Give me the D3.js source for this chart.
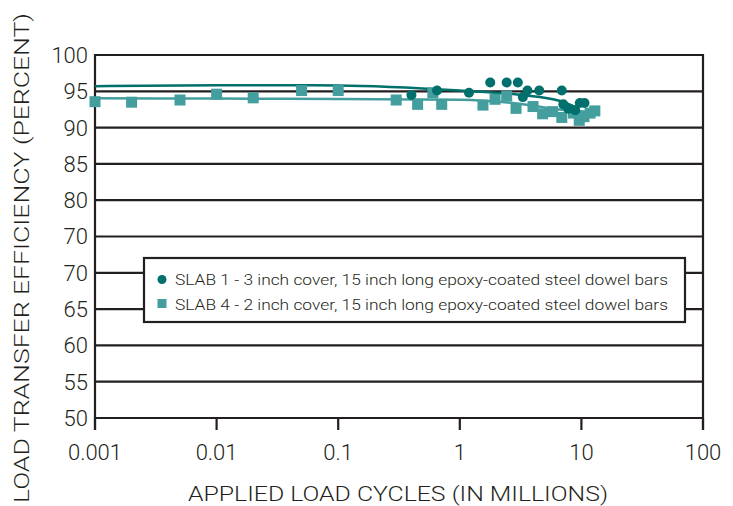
<!DOCTYPE html>
<html><head><meta charset="utf-8">
<script src="https://cdn.jsdelivr.net/npm/d3@7"></script>
<style>html,body{margin:0;padding:0;background:#fff;}svg{display:block;}</style>
</head><body>
<svg id="chart" width="733" height="506"></svg>
<script>
// ---- data ----
const xTickValues = [0.001, 0.01, 0.1, 1, 10, 100];
const xTickLabels = ["0.001", "0.01", "0.1", "1", "10", "100"];
const yTickValues = [50, 55, 60, 65, 70, 75, 80, 85, 90, 95, 100];
const yTickLabels = ["50", "55", "60", "65", "70", "70", "80", "85", "90", "95", "100"];

const slab1Cycles = [0.4, 0.65, 1.19, 1.78, 2.43, 3.0, 3.3, 3.6, 4.5, 6.9, 7.1, 7.8, 8.9, 9.7, 10.6];
const slab1LTE    = [94.5, 95.1, 94.8, 96.2, 96.2, 96.2, 94.2, 95.1, 95.1, 95.1, 93.2, 92.6, 92.4, 93.4, 93.4];

const slab4Cycles = [0.001, 0.002, 0.005, 0.01, 0.02, 0.05, 0.1, 0.3, 0.45, 0.6, 0.71, 1.55, 1.95, 2.43, 2.9, 4.0, 4.8, 5.8, 6.9, 8.6, 9.6, 10.5, 11.8, 12.9];
const slab4LTE    = [93.57, 93.5, 93.8, 94.6, 94.1, 95.1, 95.1, 93.8, 93.2, 94.8, 93.2, 93.1, 93.9, 94.35, 92.65, 92.9, 91.9, 92.2, 91.4, 92.0, 91.0, 91.5, 92.0, 92.3];

const slab1FitCycles = [0.001, 0.01, 0.1, 1, 3.2, 6.6, 9.3];
const slab1FitLTE    = [95.7, 95.85, 95.8, 95.1, 94.5, 93.7, 92.7];
const slab4FitCycles = [0.001, 0.01, 0.1, 1, 3.2, 6.6, 12.9];
const slab4FitLTE    = [94.05, 94.0, 93.95, 93.85, 93.25, 92.5, 92.1];

const seriesNames = [
  "SLAB 1 - 3 inch cover, 15 inch long epoxy-coated steel dowel bars",
  "SLAB 4 - 2 inch cover, 15 inch long epoxy-coated steel dowel bars"
];

// ---- styles ----
const c1 = "#00706c", c4 = "#449e9e", ink = "#231f20";
const font = "Roboto, 'Liberation Sans', Arial, sans-serif";
const fw = 300;

const svg = d3.select("#chart");
const pL = 95, pR = 703, pT = 55, pB = 418;
const x = d3.scaleLog().domain([0.001, 100]).range([pL, pR]);
const y = d3.scaleLinear().domain([50, 100]).range([pB, pT]);

// gridlines
svg.append("g").selectAll("line").data(yTickValues).join("line")
  .attr("x1", pL).attr("x2", pR)
  .attr("y1", d => y(d)).attr("y2", d => y(d))
  .attr("stroke", ink).attr("stroke-width", 2.2);

// x axis ticks
svg.append("g").selectAll("line").data(xTickValues).join("line")
  .attr("x1", d => x(d)).attr("x2", d => x(d))
  .attr("y1", pB).attr("y2", pB + 12)
  .attr("stroke", ink).attr("stroke-width", 2.2);
// left and right axis lines
svg.append("line").attr("x1", pL).attr("x2", pL).attr("y1", pT - 1).attr("y2", pB + 12)
  .attr("stroke", ink).attr("stroke-width", 2.2);
svg.append("line").attr("x1", pR).attr("x2", pR).attr("y1", pT - 1).attr("y2", pB + 12)
  .attr("stroke", ink).attr("stroke-width", 2.2);

// tick labels
svg.append("g").selectAll("text").data(xTickValues).join("text")
  .attr("x", d => x(d)).attr("y", 460)
  .attr("text-anchor", "middle").attr("font-family", font).attr("font-weight", fw)
  .attr("font-size", 22).attr("fill", ink)
  .text((d, i) => xTickLabels[i]);
svg.append("g").selectAll("text").data(yTickValues).join("text")
  .attr("x", 88).attr("y", d => y(d)).attr("dy", "0.36em")
  .attr("text-anchor", "end").attr("font-family", font).attr("font-weight", fw)
  .attr("font-size", 22).attr("fill", ink)
  .text((d, i) => yTickLabels[i]);

// axis titles
svg.append("text").attr("x", 398).attr("y", 501).attr("text-anchor", "middle")
  .attr("font-family", font).attr("font-weight", fw).attr("font-size", 20).attr("fill", ink)
  .attr("textLength", 420).attr("lengthAdjust", "spacingAndGlyphs")
  .text("APPLIED LOAD CYCLES (IN MILLIONS)");
svg.append("text").attr("transform", "translate(29,258) rotate(-90)").attr("text-anchor", "middle")
  .attr("font-family", font).attr("font-weight", fw).attr("font-size", 20).attr("fill", ink)
  .attr("textLength", 490).attr("lengthAdjust", "spacingAndGlyphs")
  .text("LOAD TRANSFER EFFICIENCY (PERCENT)");

// fitted curves
const line = d3.line().x(d => x(d[0])).y(d => y(d[1])).curve(d3.curveMonotoneX);
svg.append("path").datum(slab4FitCycles.map((c, i) => [c, slab4FitLTE[i]]))
  .attr("d", line).attr("fill", "none").attr("stroke", c4).attr("stroke-width", 2.5);
svg.append("path").datum(slab1FitCycles.map((c, i) => [c, slab1FitLTE[i]]))
  .attr("d", line).attr("fill", "none").attr("stroke", c1).attr("stroke-width", 2.5);

// markers
const sq = 11;
svg.append("g").selectAll("rect").data(slab4Cycles.map((c, i) => [c, slab4LTE[i]])).join("rect")
  .attr("x", d => x(d[0]) - sq / 2).attr("y", d => y(d[1]) - sq / 2)
  .attr("width", sq).attr("height", sq).attr("fill", c4);
svg.append("g").selectAll("circle").data(slab1Cycles.map((c, i) => [c, slab1LTE[i]])).join("circle")
  .attr("cx", d => x(d[0])).attr("cy", d => y(d[1])).attr("r", 5).attr("fill", c1);

// legend
const lg = svg.append("g");
lg.append("rect").attr("x", 144).attr("y", 258).attr("width", 541).attr("height", 64)
  .attr("fill", "#fff").attr("stroke", ink).attr("stroke-width", 2.2);
lg.append("circle").attr("cx", 162).attr("cy", 279.5).attr("r", 4.5).attr("fill", c1);
lg.append("rect").attr("x", 157.5).attr("y", 299).attr("width", 9).attr("height", 9).attr("fill", c4);
lg.selectAll("text.l").data(seriesNames).join("text").attr("class", "l")
  .attr("x", 175).attr("y", (d, i) => 285 + i * 24.5)
  .attr("font-family", font).attr("font-weight", fw).attr("font-size", 15.5).attr("fill", ink)
  .attr("textLength", 493).attr("lengthAdjust", "spacingAndGlyphs")
  .text(d => d);
</script>
</body></html>
